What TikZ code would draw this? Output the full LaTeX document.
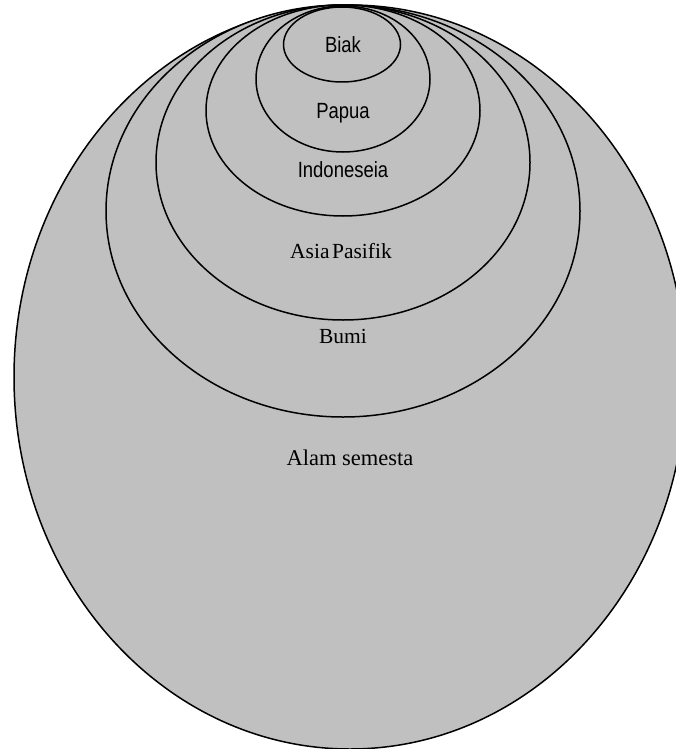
\documentclass[tikz,border=0pt]{standalone}
\usepackage{fontspec}
\setmainfont{Liberation Serif}
\newfontfamily\narrowsans{Liberation Sans}[FakeStretch=0.84]
\definecolor{ringgray}{RGB}{192,192,192}
\tikzset{
	ring/.style={draw=black,fill=ringgray,line width=1.5pt},
	innerlabel/.style={anchor=base,inner sep=0pt,font=\narrowsans\fontsize{22}{24}\selectfont},
	outerlabel/.style={anchor=base,inner sep=0pt,font=\fontsize{21.5}{24}\selectfont}
}
\begin{document}
\begin{tikzpicture}[x=1pt,y=-1pt]
		\useasboundingbox (0,0) rectangle (676,749);
		\clip (0,0) rectangle (676,749);
		% rings, outside in
		\draw[ring] (350,377) ellipse (336 and 372);
		\draw[ring] (343,211) ellipse (237 and 206);
		\draw[ring] (343,162.5) ellipse (187 and 157.5);
		\draw[ring] (343,110.5) ellipse (137 and 105.5);
		\draw[ring] (343,79) ellipse (87 and 73);
		\draw[ring] (342,44.5) ellipse (58.5 and 37.5);
		% labels
		\node[innerlabel] (biak) at (343,53) {Biak};
		\node[innerlabel] (papua) at (343,118) {Papua};
		\node[innerlabel] (indonesia) at (343,177) {Indoneseia};
		\node[outerlabel] (asia) at (341,258) {Asia\hspace{0.12em}Pasifik};
		\node[outerlabel] (bumi) at (343,343) {Bumi};
		\node[outerlabel,font=\fontsize{22.5}{24}\selectfont] (alam) at (350,465) {Alam semesta};
\end{tikzpicture}
\end{document}
